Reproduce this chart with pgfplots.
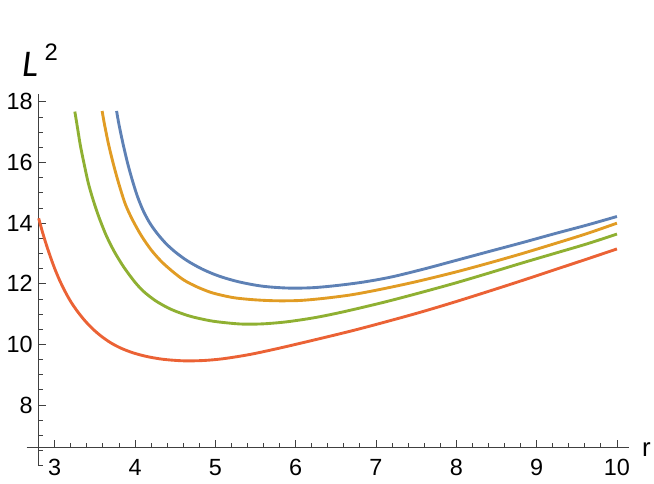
\documentclass[border=0pt]{standalone}
\usepackage{fontspec}
\setmainfont{Liberation Sans}
\newfontfamily\lfont{Carlito}
\usepackage{pgfplots}
\pgfplotsset{compat=1.18}

\definecolor{mblue}{rgb}{0.368417,0.506779,0.709798}
\definecolor{morange}{rgb}{0.880722,0.611041,0.142051}
\definecolor{mgreen}{rgb}{0.560181,0.691569,0.194885}
\definecolor{mred}{rgb}{0.922526,0.385626,0.209179}

\begin{document}
\begin{tikzpicture}
\begin{axis}[
    x=40.475pt, y=15.28pt,
    xmin=2.65, xmax=10.15, ymin=6.0, ymax=18.25,
    axis lines=left,
    axis line style={-, black!75, line width=0.5pt},
    axis x line shift=-9.32pt,
    axis y line shift=-6.07pt,
    xtick={3,...,10}, ytick={8,10,...,18},
    minor xtick={2.8,3.0,...,10.0},
    minor ytick={6,6.5,...,18},
    tick align=inside,
    major tick length=3.5pt, minor tick length=2pt,
    tick style={black!75, line width=0.45pt},
    tick label style={font=\fontsize{11.8}{13}\selectfont},
    xticklabel style={yshift=-2.4pt},
    yticklabel style={xshift=0.5pt},
    /pgf/number format/assume math mode=true,
    clip=false,
    every axis plot/.append style={line width=1.45pt, smooth, no markers},
]
\path (axis cs:2.3823,5.4247) rectangle (axis cs:10.4614,21.3606);

\addplot[mred] coordinates {
(2.80,14.16)(2.85,13.68)(2.90,13.25)(2.95,12.86)(3.00,12.50)(3.06,12.12)
(3.13,11.74)(3.20,11.41)(3.28,11.10)(3.37,10.80)(3.47,10.52)(3.58,10.27)
(3.70,10.05)(3.83,9.87)(3.98,9.72)(4.15,9.60)(4.35,9.51)(4.60,9.46)
(4.85,9.47)(5.10,9.53)(5.43,9.67)(5.80,9.88)(6.25,10.16)(6.70,10.45)
(7.10,10.73)(7.55,11.06)(7.98,11.40)(8.40,11.75)(8.81,12.10)(9.22,12.46)
(9.63,12.82)(10.00,13.15)
};
\addplot[mgreen] coordinates {
(3.25,17.68)(3.28,17.20)(3.32,16.55)(3.37,15.90)(3.42,15.30)(3.48,14.75)
(3.55,14.20)(3.64,13.60)(3.74,13.07)(3.86,12.55)(4.00,12.05)(4.11,11.74)
(4.25,11.45)(4.40,11.22)(4.52,11.08)(4.70,10.92)(4.94,10.78)(5.15,10.71)
(5.35,10.67)(5.60,10.68)(5.90,10.75)(6.25,10.89)(6.60,11.08)(7.08,11.38)
(7.50,11.67)(7.98,12.02)(8.40,12.35)(8.81,12.68)(9.22,13.00)(9.63,13.32)
(10.00,13.64)
};
\addplot[morange] coordinates {
(3.59,17.70)(3.62,17.25)(3.67,16.60)(3.73,15.95)(3.80,15.28)(3.88,14.62)
(3.97,14.10)(4.08,13.58)(4.20,13.12)(4.33,12.73)(4.47,12.40)(4.61,12.12)
(4.77,11.90)(4.94,11.72)(5.10,11.61)(5.26,11.53)(5.50,11.47)(5.76,11.44)
(6.05,11.45)(6.35,11.52)(6.70,11.64)(7.08,11.83)(7.50,12.07)(7.98,12.38)
(8.40,12.68)(8.81,12.99)(9.22,13.32)(9.63,13.66)(10.00,14.00)
};
\addplot[mblue] coordinates {
(3.77,17.70)(3.80,17.25)(3.85,16.62)(3.91,15.95)(3.97,15.38)(4.03,14.88)
(4.10,14.42)(4.18,14.02)(4.27,13.68)(4.38,13.34)(4.50,13.05)(4.65,12.76)
(4.84,12.48)(5.05,12.25)(5.30,12.06)(5.59,11.92)(5.90,11.86)(6.20,11.87)
(6.50,11.94)(6.85,12.06)(7.20,12.23)(7.60,12.49)(7.98,12.76)(8.40,13.06)
(8.81,13.35)(9.22,13.65)(9.63,13.94)(10.00,14.22)
};

\node[anchor=base west, inner sep=0pt, font=\fontsize{13}{13}\selectfont]
    at (axis cs:10.31,6.30) {r};
\node[anchor=base west, inner sep=0pt, font=\fontsize{19}{19}\selectfont\lfont\itshape]
    at (axis cs:2.59,18.84) {L};
\node[anchor=base west, inner sep=0pt, font=\fontsize{12}{13}\selectfont]
    at (axis cs:2.87,19.365) {2};
\end{axis}
\end{tikzpicture}
\end{document}
